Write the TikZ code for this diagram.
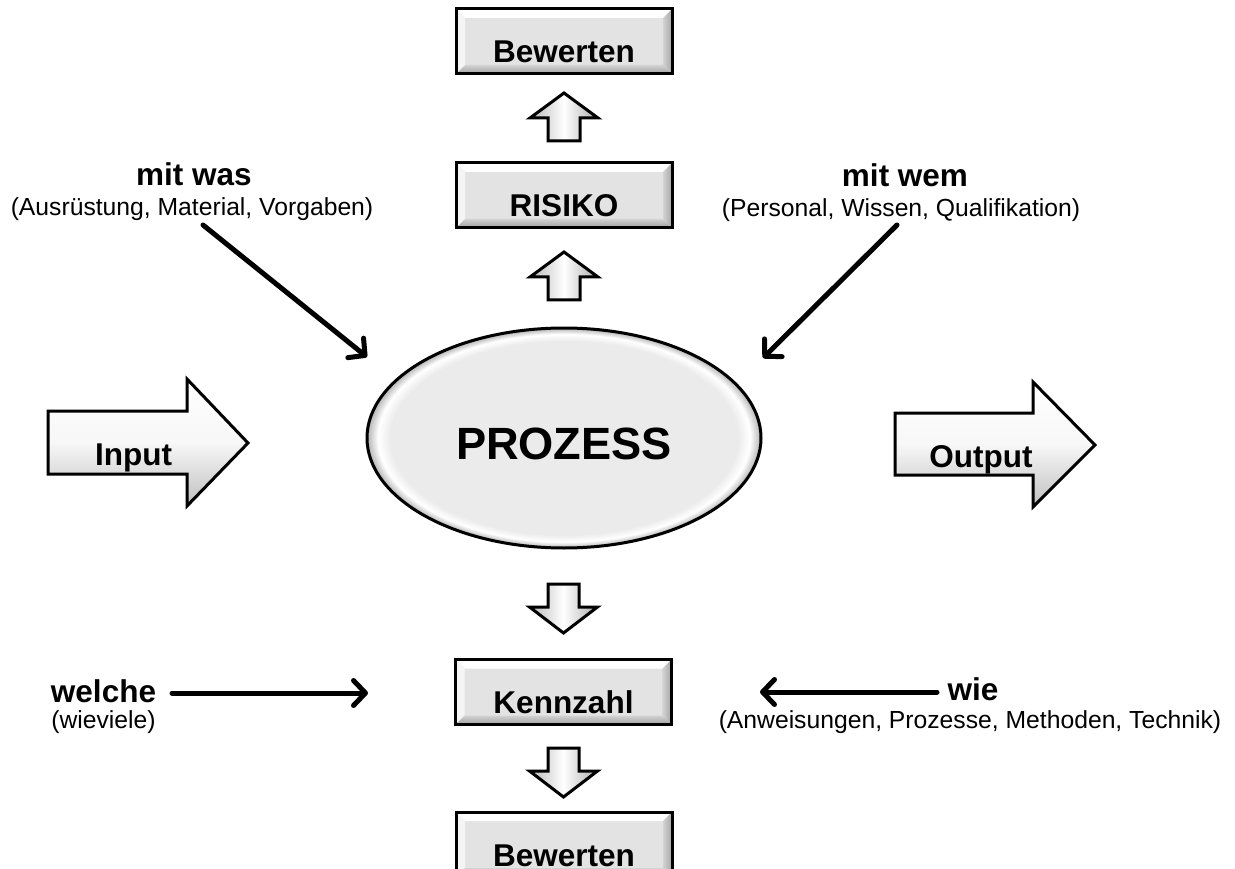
\documentclass[tikz,border=0pt]{standalone}
\usepackage{fontspec}
\setmainfont{Liberation Sans}
\usetikzlibrary{arrows.meta,shapes.geometric}
\pgfdeclareradialshading{procrim}{\pgfpointorigin}{color(0bp)=(gray!16); color(22bp)=(gray!16); color(23.6bp)=(white); color(25bp)=(gray!60); color(50bp)=(gray!60)}
\begin{document}
\begin{tikzpicture}[x=1pt,y=-1pt,
  lbl/.style={font=\bfseries\fontsize{31.5}{36}\selectfont, inner sep=0pt, anchor=base},
  sub/.style={font=\fontsize{24.7}{28}\selectfont, inner sep=0pt, anchor=base},
  conn/.style={line width=5pt, line cap=round, -{Straight Barb[length=12pt,width=25pt,line cap=round,line join=round]}},
  bigarr/.style={draw=black, line width=3pt, line join=miter, top color=white, bottom color=gray!50, middle color=gray!6},
  smallarr/.style={draw=black, line width=3pt, line join=miter, left color=gray!55, right color=gray!65, middle color=white},
  bbox/.style={rectangle, draw=black, line width=3pt, fill=gray!22, minimum width=216pt, minimum height=65pt,
    inner sep=0pt, text height=43pt, text depth=0pt, font=\bfseries\fontsize{31.5}{36}\selectfont,
    path picture={
      \fill[white] (path picture bounding box.north west) -- (path picture bounding box.north east)
        -- ([shift={(-9pt,-9pt)}]path picture bounding box.north east)
        -- ([shift={(9pt,-9pt)}]path picture bounding box.north west) -- cycle;
      \fill[gray!8] (path picture bounding box.north west) -- ([shift={(9pt,-9pt)}]path picture bounding box.north west)
        -- ([shift={(9pt,9pt)}]path picture bounding box.south west) -- (path picture bounding box.south west) -- cycle;
      \shade[top color=gray!35, bottom color=gray!75] (path picture bounding box.south west)
        -- ([shift={(9pt,9pt)}]path picture bounding box.south west)
        -- ([shift={(-9pt,9pt)}]path picture bounding box.south east) -- (path picture bounding box.south east) -- cycle;
      \shade[left color=gray!35, right color=gray!70] (path picture bounding box.north east)
        -- ([shift={(-9pt,-9pt)}]path picture bounding box.north east)
        -- ([shift={(-9pt,9pt)}]path picture bounding box.south east) -- (path picture bounding box.south east) -- cycle;
    }},
  uparr/.pic={\path[smallarr] (0,0) -- (34,25) -- (16,25) -- (16,48) -- (-16,48) -- (-16,25) -- (-34,25) -- cycle;},
  downarr/.pic={\path[smallarr] (0,0) -- (34,-26) -- (15.5,-26) -- (15.5,-49) -- (-15.5,-49) -- (-15.5,-26) -- (-34,-26) -- cycle;}
]
\useasboundingbox (0,0) rectangle (1235,869);

% big block arrows
\path[bigarr] (48,411) -- (187,411) -- (187,379) -- (248,443) -- (187,506) -- (187,474) -- (48,474) -- cycle;
\path[bigarr] (895,413) -- (1033,413) -- (1033,382) -- (1095,445) -- (1033,507) -- (1033,475) -- (895,475) -- cycle;
\node[lbl] (input) at (133.5,465) {Input};
\node[lbl] (output) at (981,467) {Output};

% process ellipse
\node[ellipse, draw=black, line width=3pt, shade, shading=procrim, minimum width=394pt, minimum height=220pt,
  inner sep=0pt, text height=43pt, text depth=0pt, font=\bfseries\fontsize{45.2}{50}\selectfont] (proc) at (564,438) {PROZESS};

% boxes
\node[bbox] (bew1) at (564,41.5) {Bewerten};
\node[bbox] (risk) at (564,195.5) {RISIKO};
\node[bbox] (kenn) at (563.5,692) {Kennzahl};
\node[bbox] (bew2) at (564,844.5) {Bewerten};

% small block arrows
\pic at (564,93) {uparr};
\pic at (564,252) {uparr};
\pic at (563.5,633) {downarr};
\pic at (563.5,797) {downarr};

% labels
\node[lbl] (was) at (194,186) {mit was};
\node[sub] (wassub) at (192,216) {(Ausrüstung, Material, Vorgaben)};
\node[lbl] (wem) at (905,187) {mit wem};
\node[sub] (wemsub) at (901,217) {(Personal, Wissen, Qualifikation)};
\node[lbl] (welche) at (103.5,702) {welche};
\node[sub] (welchesub) at (103.5,728) {(wieviele)};
\node[lbl] (wie) at (973,700) {wie};
\node[sub] (wiesub) at (970,728) {(Anweisungen, Prozesse, Methoden, Technik)};

% connectors
\coordinate (wasS) at (203,225);
\coordinate (wasE) at (367,357);
\coordinate (wemS) at (897,225);
\coordinate (wemE) at (763,358);
\coordinate (welS) at (172,693);
\coordinate (welE) at (368,693);
\coordinate (wieS) at (937,692);
\coordinate (wieE) at (760,692);
\draw[conn] (wasS) -- (wasE);
\draw[conn] (wemS) -- (wemE);
\draw[conn] (welS) -- (welE);
\draw[conn] (wieS) -- (wieE);
\end{tikzpicture}
\end{document}
